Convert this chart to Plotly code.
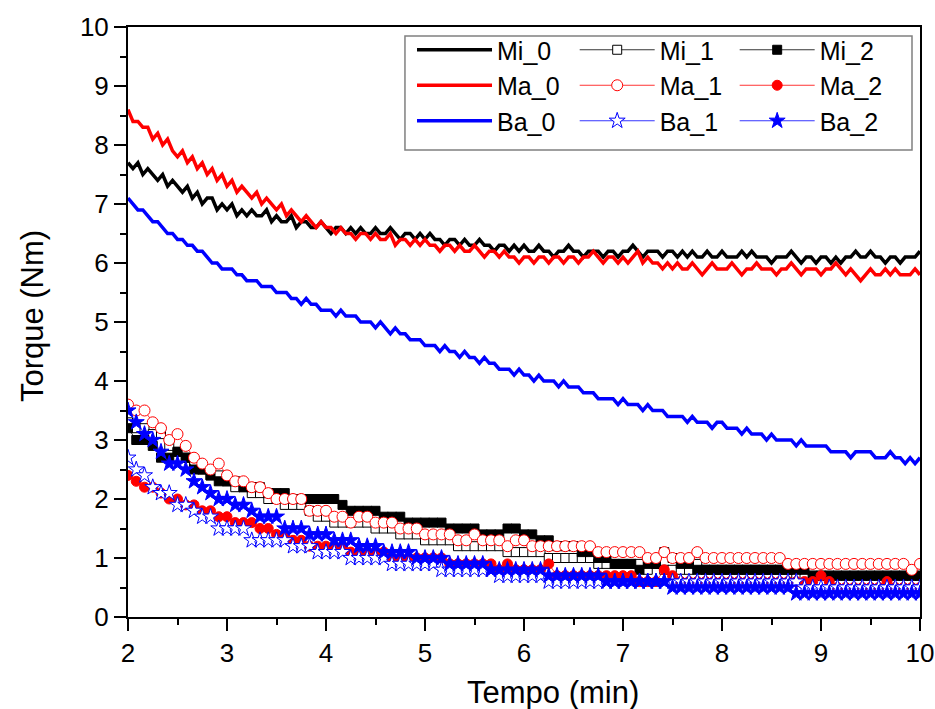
import numpy as np
import plotly.graph_objects as go

# time axes (min)
t_line = np.round(2 + np.arange(161) * 0.05, 4)
t_mark = np.round(2 + np.arange(97) / 12.0, 4)

Mi_0 = [7.7, 7.6, 7.7, 7.5, 7.6, 7.5, 7.4, 7.5, 7.3, 7.4,
        7.3, 7.2, 7.3, 7.1, 7.2, 7.0, 7.1, 7.1, 6.9, 7.0,
        6.9, 7.0, 6.8, 6.9, 6.8, 6.9, 6.8, 6.8, 6.9, 6.7,
        6.8, 6.7, 6.7, 6.8, 6.6, 6.7, 6.7, 6.6, 6.6, 6.7,
        6.6, 6.5, 6.6, 6.6, 6.5, 6.6, 6.5, 6.6, 6.5, 6.5,
        6.6, 6.5, 6.5, 6.6, 6.5, 6.4, 6.5, 6.5, 6.4, 6.5,
        6.4, 6.5, 6.4, 6.4, 6.3, 6.4, 6.4, 6.3, 6.4, 6.3,
        6.3, 6.4, 6.3, 6.3, 6.2, 6.3, 6.3, 6.2, 6.3, 6.2,
        6.3, 6.2, 6.2, 6.3, 6.2, 6.2, 6.1, 6.2, 6.2, 6.3,
        6.2, 6.2, 6.1, 6.2, 6.2, 6.2, 6.1, 6.2, 6.2, 6.1,
        6.2, 6.2, 6.3, 6.2, 6.1, 6.2, 6.2, 6.2, 6.1, 6.2,
        6.2, 6.1, 6.2, 6.1, 6.2, 6.1, 6.1, 6.2, 6.1, 6.1,
        6.2, 6.1, 6.1, 6.1, 6.2, 6.1, 6.2, 6.1, 6.1, 6.1,
        6.0, 6.1, 6.1, 6.1, 6.2, 6.1, 6.0, 6.1, 6.1, 6.0,
        6.1, 6.1, 6.0, 6.1, 6.0, 6.1, 6.1, 6.2, 6.1, 6.1,
        6.2, 6.1, 6.1, 6.0, 6.1, 6.1, 6.0, 6.1, 6.1, 6.1,
        6.2]

Ma_0 = [8.6, 8.4, 8.4, 8.3, 8.3, 8.1, 8.2, 8.0, 8.1, 7.9,
        7.8, 7.9, 7.7, 7.8, 7.6, 7.7, 7.5, 7.6, 7.4, 7.5,
        7.3, 7.4, 7.2, 7.3, 7.2, 7.1, 7.2, 7.0, 7.1, 7.0,
        6.9, 7.0, 6.8, 6.9, 6.8, 6.7, 6.8, 6.7, 6.6, 6.7,
        6.6, 6.6, 6.5, 6.6, 6.5, 6.5, 6.4, 6.5, 6.5, 6.4,
        6.5, 6.4, 6.4, 6.5, 6.3, 6.4, 6.4, 6.3, 6.4, 6.3,
        6.4, 6.3, 6.3, 6.2, 6.3, 6.3, 6.2, 6.3, 6.2, 6.2,
        6.3, 6.2, 6.1, 6.2, 6.2, 6.1, 6.2, 6.1, 6.1, 6.0,
        6.1, 6.1, 6.0, 6.1, 6.1, 6.0, 6.1, 6.1, 6.0, 6.1,
        6.1, 6.0, 6.1, 6.1, 6.2, 6.1, 6.0, 6.1, 6.1, 6.0,
        6.1, 6.0, 6.1, 6.2, 6.0, 6.1, 6.0, 6.0, 5.9, 6.0,
        5.9, 6.0, 5.9, 5.9, 6.0, 5.9, 5.8, 5.9, 6.0, 5.9,
        5.9, 5.9, 6.0, 5.9, 5.8, 5.9, 5.9, 6.0, 5.9, 5.9,
        5.9, 5.8, 5.9, 5.9, 6.0, 5.9, 5.8, 5.9, 5.9, 5.9,
        5.8, 5.9, 5.9, 6.0, 5.9, 5.8, 5.9, 5.8, 5.7, 5.8,
        5.9, 5.8, 5.8, 5.9, 5.8, 5.9, 5.8, 5.8, 5.8, 5.9,
        5.8]

Ba_0 = [7.1, 7.0, 6.9, 6.9, 6.8, 6.7, 6.7, 6.6, 6.5, 6.5,
        6.4, 6.4, 6.3, 6.3, 6.2, 6.2, 6.1, 6.0, 6.0, 5.9,
        5.9, 5.9, 5.8, 5.8, 5.7, 5.7, 5.7, 5.6, 5.6, 5.6,
        5.5, 5.5, 5.5, 5.4, 5.4, 5.3, 5.4, 5.3, 5.3, 5.2,
        5.2, 5.2, 5.1, 5.2, 5.1, 5.1, 5.1, 5.0, 5.0, 5.0,
        4.9, 5.0, 4.9, 4.8, 4.9, 4.8, 4.8, 4.7, 4.7, 4.7,
        4.6, 4.6, 4.6, 4.5, 4.6, 4.5, 4.5, 4.4, 4.5, 4.4,
        4.4, 4.3, 4.4, 4.3, 4.3, 4.2, 4.2, 4.2, 4.1, 4.2,
        4.1, 4.1, 4.0, 4.1, 4.0, 4.0, 4.0, 3.9, 4.0, 3.9,
        3.9, 3.9, 3.8, 3.8, 3.8, 3.7, 3.7, 3.7, 3.7, 3.6,
        3.7, 3.6, 3.6, 3.6, 3.5, 3.6, 3.5, 3.5, 3.5, 3.4,
        3.4, 3.4, 3.4, 3.3, 3.4, 3.3, 3.3, 3.3, 3.2, 3.3,
        3.3, 3.2, 3.2, 3.2, 3.1, 3.2, 3.1, 3.1, 3.1, 3.0,
        3.1, 3.0, 3.0, 3.0, 3.0, 2.9, 3.0, 2.9, 2.9, 2.9,
        2.9, 2.9, 2.8, 2.8, 2.8, 2.8, 2.7, 2.8, 2.8, 2.8,
        2.8, 2.7, 2.7, 2.7, 2.8, 2.7, 2.7, 2.6, 2.7, 2.6,
        2.7]

Mi_1 = [3.3, 3.2, 3.2, 3.1, 3.1, 2.9, 2.8, 2.7, 2.6, 2.5,
        2.4, 2.4, 2.3, 2.2, 2.2, 2.1, 2.1, 2.0, 2.0, 1.9,
        1.9, 1.9, 1.8, 1.7, 1.7, 1.6, 1.6, 1.6, 1.6, 1.6,
        1.5, 1.5, 1.5, 1.4, 1.4, 1.4, 1.3, 1.3, 1.3, 1.3,
        1.2, 1.2, 1.2, 1.2, 1.2, 1.2, 1.1, 1.1, 1.1, 1.1,
        1.1, 1.0, 1.0, 1.0, 1.0, 1.0, 1.0, 0.9, 0.9, 0.9,
        0.9, 0.9, 0.9, 0.8, 0.9, 0.8, 0.8, 0.8, 0.8, 0.9,
        0.8, 0.8, 0.8, 0.8, 0.8, 0.8, 0.8, 0.8, 0.8, 0.8,
        0.8, 0.7, 0.7, 0.7, 0.7, 0.7, 0.7, 0.7, 0.7, 0.7,
        0.7, 0.7, 0.7, 0.7, 0.7, 0.7, 0.7]

Mi_2 = [3.2, 3.0, 3.0, 2.9, 2.7, 2.7, 2.8, 2.7, 2.5, 2.5,
        2.4, 2.3, 2.3, 2.3, 2.2, 2.2, 2.2, 2.1, 2.1, 2.1,
        2.0, 2.0, 2.0, 2.0, 2.0, 2.0, 1.9, 1.8, 1.8, 1.8,
        1.8, 1.7, 1.7, 1.7, 1.6, 1.6, 1.6, 1.6, 1.6, 1.5,
        1.5, 1.5, 1.5, 1.4, 1.4, 1.4, 1.5, 1.5, 1.4, 1.4,
        1.3, 1.3, 1.2, 1.2, 1.2, 1.1, 1.1, 1.0, 1.0, 0.9,
        0.9, 0.9, 0.8, 0.9, 0.9, 1.1, 1.0, 0.9, 0.9, 0.8,
        0.8, 0.8, 0.8, 0.8, 0.8, 0.8, 0.8, 0.8, 0.8, 0.8,
        0.8, 0.8, 0.8, 0.7, 0.7, 0.7, 0.7, 0.7, 0.7, 0.7,
        0.7, 0.7, 0.7, 0.7, 0.7, 0.7, 0.7]

Ma_1 = [3.6, 3.5, 3.5, 3.3, 3.2, 3.0, 3.1, 2.9, 2.7, 2.6,
        2.5, 2.6, 2.4, 2.3, 2.3, 2.2, 2.2, 2.1, 2.0, 2.0,
        2.0, 2.0, 1.8, 1.8, 1.8, 1.7, 1.7, 1.6, 1.7, 1.7,
        1.6, 1.6, 1.6, 1.5, 1.5, 1.5, 1.4, 1.4, 1.4, 1.4,
        1.3, 1.3, 1.4, 1.3, 1.3, 1.3, 1.2, 1.3, 1.3, 1.2,
        1.2, 1.2, 1.2, 1.2, 1.2, 1.2, 1.2, 1.1, 1.1, 1.1,
        1.1, 1.1, 1.1, 1.0, 1.0, 1.1, 1.0, 1.0, 1.0, 1.1,
        1.0, 1.0, 1.0, 1.0, 1.0, 1.0, 1.0, 1.0, 1.0, 1.0,
        0.9, 0.9, 0.9, 0.9, 0.9, 0.9, 0.9, 0.9, 0.9, 0.9,
        0.9, 0.9, 0.9, 0.9, 0.9, 0.8, 0.9]

Ma_2 = [2.4, 2.3, 2.2, 2.2, 2.1, 2.0, 2.0, 1.9, 1.9, 1.8,
        1.8, 1.7, 1.7, 1.6, 1.6, 1.6, 1.5, 1.5, 1.4, 1.4,
        1.3, 1.3, 1.2, 1.2, 1.2, 1.2, 1.2, 1.1, 1.1, 1.1,
        1.1, 1.1, 1.0, 1.0, 1.0, 1.0, 1.0, 1.0, 1.0, 0.9,
        0.9, 0.9, 0.9, 0.9, 0.9, 0.8, 0.9, 0.8, 0.8, 0.8,
        0.8, 0.9, 0.7, 0.7, 0.7, 0.7, 0.7, 0.7, 0.7, 0.7,
        0.7, 0.7, 0.6, 0.6, 0.6, 0.8, 0.7, 0.6, 0.6, 0.6,
        0.6, 0.6, 0.6, 0.6, 0.6, 0.6, 0.6, 0.6, 0.6, 0.6,
        0.6, 0.6, 0.6, 0.6, 0.7, 0.6, 0.5, 0.5, 0.5, 0.5,
        0.5, 0.5, 0.6, 0.5, 0.5, 0.5, 0.5]

Ba_1 = [2.7, 2.5, 2.4, 2.2, 2.1, 2.1, 1.9, 1.9, 1.8, 1.7,
        1.7, 1.5, 1.5, 1.5, 1.5, 1.3, 1.3, 1.3, 1.3, 1.3,
        1.2, 1.2, 1.2, 1.1, 1.1, 1.1, 1.1, 1.0, 1.0, 1.0,
        1.0, 1.0, 0.9, 0.9, 0.9, 0.9, 0.9, 0.9, 0.8, 0.8,
        0.8, 0.8, 0.8, 0.8, 0.8, 0.7, 0.7, 0.7, 0.7, 0.7,
        0.7, 0.6, 0.6, 0.6, 0.6, 0.6, 0.6, 0.6, 0.6, 0.6,
        0.6, 0.6, 0.6, 0.6, 0.6, 0.6, 0.6, 0.6, 0.6, 0.6,
        0.6, 0.6, 0.6, 0.6, 0.6, 0.6, 0.6, 0.6, 0.6, 0.6,
        0.6, 0.6, 0.5, 0.5, 0.5, 0.5, 0.5, 0.5, 0.5, 0.5,
        0.5, 0.5, 0.5, 0.5, 0.5, 0.5, 0.5]

Ba_2 = [3.5, 3.3, 3.1, 3.0, 2.8, 2.6, 2.6, 2.5, 2.3, 2.2,
        2.1, 2.0, 2.0, 1.9, 1.9, 1.8, 1.7, 1.7, 1.7, 1.5,
        1.5, 1.5, 1.4, 1.4, 1.4, 1.3, 1.3, 1.3, 1.2, 1.2,
        1.2, 1.1, 1.1, 1.1, 1.1, 1.0, 1.0, 1.0, 1.0, 0.9,
        0.9, 0.9, 0.9, 0.9, 0.8, 0.8, 0.8, 0.8, 0.8, 0.8,
        0.8, 0.7, 0.7, 0.7, 0.7, 0.7, 0.7, 0.7, 0.6, 0.6,
        0.6, 0.6, 0.6, 0.6, 0.6, 0.6, 0.5, 0.5, 0.5, 0.5,
        0.5, 0.5, 0.5, 0.5, 0.5, 0.5, 0.5, 0.5, 0.5, 0.5,
        0.5, 0.4, 0.4, 0.4, 0.4, 0.4, 0.4, 0.4, 0.4, 0.4,
        0.4, 0.4, 0.4, 0.4, 0.4, 0.4, 0.4]

BLACK, RED, BLUE = "#000000", "#ff0000", "#0000ff"

fig = go.Figure()

def line_trace(name, y, color, leg):
    return go.Scatter(x=t_line, y=y, name=name, mode="lines", legend=leg,
                      line=dict(color=color, width=3.5))

def mark_trace(name, y, color, symbol, size, filled, leg):
    return go.Scatter(
        x=t_mark, y=y, name=name, mode="lines+markers", legend=leg,
        line=dict(color=color, width=0.8),
        marker=dict(symbol=symbol, size=size,
                    color=color if filled else "white",
                    line=dict(color=color, width=1)))

fig.add_trace(line_trace("Mi_0", Mi_0, BLACK, "legend"))
fig.add_trace(mark_trace("Mi_1", Mi_1, BLACK, "square", 9, False, "legend2"))
fig.add_trace(mark_trace("Mi_2", Mi_2, BLACK, "square", 9, True, "legend3"))
fig.add_trace(line_trace("Ma_0", Ma_0, RED, "legend"))
fig.add_trace(mark_trace("Ma_1", Ma_1, RED, "circle", 11, False, "legend2"))
fig.add_trace(mark_trace("Ma_2", Ma_2, RED, "circle", 10, True, "legend3"))
fig.add_trace(line_trace("Ba_0", Ba_0, BLUE, "legend"))
fig.add_trace(mark_trace("Ba_1", Ba_1, BLUE, "star", 12, False, "legend2"))
fig.add_trace(mark_trace("Ba_2", Ba_2, BLUE, "star", 12, True, "legend3"))

FONT = "Arial, Liberation Sans, sans-serif"
axis_common = dict(
    showline=True, linecolor="black", linewidth=2, mirror=True,
    ticks="outside", ticklen=12, tickwidth=2, tickcolor="black",
    showgrid=False, zeroline=False, automargin=False,
    ticklabeloverflow="allow",
    tickfont=dict(family=FONT, size=26, color="black"),
    minor=dict(ticks="outside", ticklen=6, tickwidth=2, tickcolor="black", dtick=0.5),
)

leg_common = dict(orientation="v", xanchor="left", yanchor="top", y=1.0,
                  borderwidth=0, bgcolor="rgba(0,0,0,0)",
                  font=dict(family=FONT, size=25, color="black"),
                  itemwidth=75, tracegroupgap=0)

fig.update_layout(
    width=935, height=709, autosize=False,
    margin=dict(l=128, r=15, t=27, b=92),
    paper_bgcolor="white", plot_bgcolor="white",
    font=dict(family=FONT, color="black"),
    xaxis=dict(range=[2, 10], dtick=1, **axis_common),
    yaxis=dict(range=[0, 10], dtick=1, **axis_common),
    legend=dict(x=0.3586, **leg_common),
    legend2=dict(x=0.564, **leg_common),
    legend3=dict(x=0.766, **leg_common),
    shapes=[dict(type="rect", xref="paper", yref="paper",
                 x0=0.3497, x1=0.9899, y0=0.7915, y1=0.9847,
                 line=dict(color="#808080", width=1.5),
                 fillcolor="white", layer="below")],
    annotations=[
        dict(text="Tempo (min)", xref="paper", yref="paper", x=0.5366, y=-0.1288,
             xanchor="center", yanchor="middle", showarrow=False,
             font=dict(family=FONT, size=31, color="black")),
        dict(text="Torque (Nm)", xref="paper", yref="paper", x=-0.1212, y=0.510,
             xanchor="center", yanchor="middle", showarrow=False, textangle=-90,
             font=dict(family=FONT, size=31, color="black")),
    ],
    showlegend=True,
)

fig.write_html(
    "out.html",
    config={"displayModeBar": False, "responsive": False},
    post_script=("document.body.style.margin='0';"
                 "document.body.style.overflow='hidden';"
                 "Plotly.relayout('{plot_id}', {width: 935, height: 709});"),
)
